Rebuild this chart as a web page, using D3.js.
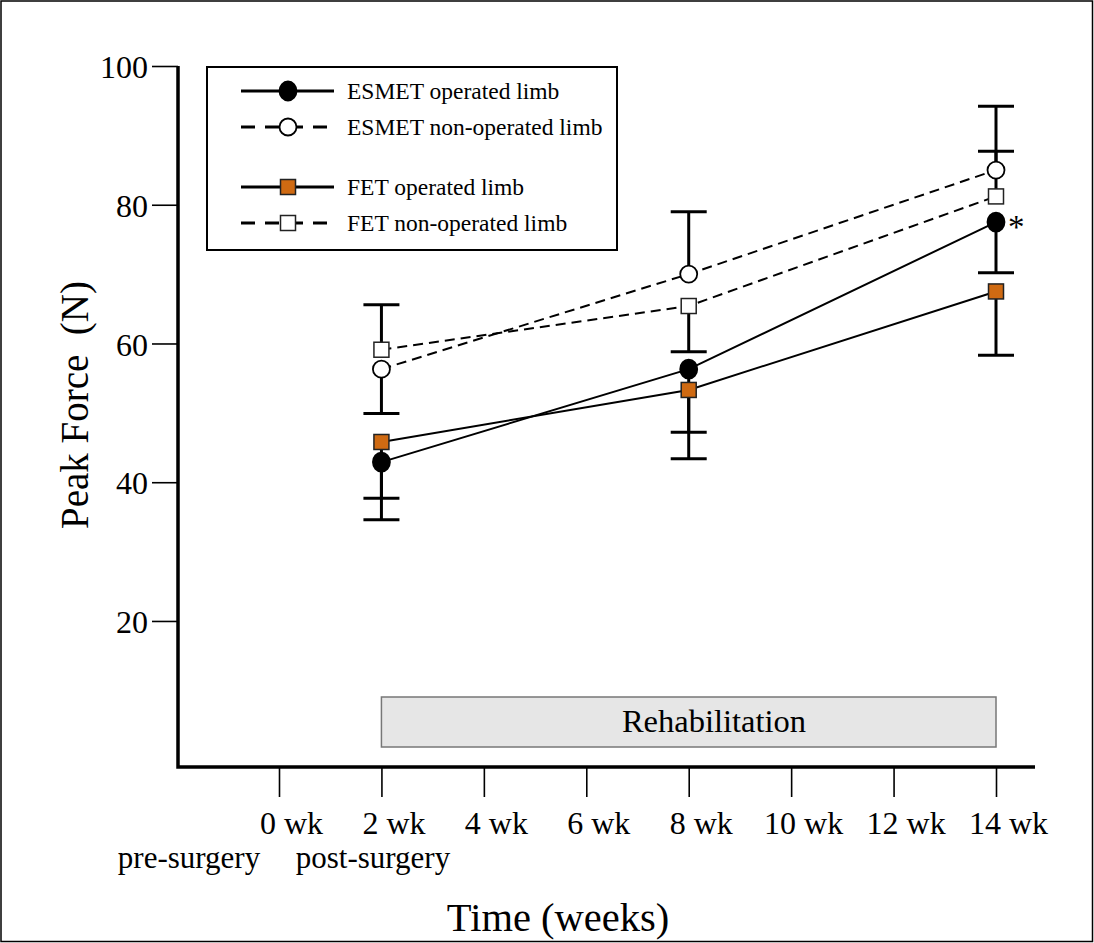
<!DOCTYPE html>
<html>
<head>
<meta charset="utf-8">
<script src="https://cdn.jsdelivr.net/npm/d3@7"></script>
<style>
	body { margin: 0; background: #fff; }
	svg { display: block; font-family: "Liberation Serif", "Times New Roman", serif; }
</style>
</head>
<body>
<svg></svg>
<script>
 //data
var weeks = [2, 8, 14],
		tickWeeks = [0, 2, 4, 6, 8, 10, 12, 14],
		yTicks = [20, 40, 60, 80, 100];
var esmetOp = [42.9, 56.3, 77.5],
		esmetNonOp = [56.3, 70.0, 85.0],
		fetOp = [45.8, 53.3, 67.5],
		fetNonOp = [59.1, 65.4, 81.2];
 //one-sided error bars: + goes up, - goes down
var esmetOpErr = [-8.3, -12.9, -7.3],
		esmetNonOpErr = [-6.4, 9.0, 9.2],
		fetOpErr = [-8.1, -6.1, -9.2],
		fetNonOpErr = [6.5, -6.6, 6.5];
var legendLabels = ['ESMET operated limb', 'ESMET non-operated limb', 'FET operated limb', 'FET non-operated limb'];
var subLabels = ['pre-surgery', 'post-surgery'];

var W = 1094, H = 943,
		ORANGE = '#cf6a12',
		root = d3.select('svg').attr('width', W).attr('height', H);

var sx = d3.scaleLinear()
			.domain([0, 14])
			.range([279, 996]),
		sy = d3.scaleLinear()
			.domain([0, 100])
			.range([759.7, 66]);

var AXIS_X = 178, AXIS_Y = 767;

var series = [
	{ name: legendLabels[0], vals: esmetOp, err: esmetOpErr, shape: 'circle', fill: '#000', dash: null },
	{ name: legendLabels[1], vals: esmetNonOp, err: esmetNonOpErr, shape: 'circle', fill: '#fff', dash: '10,6' },
	{ name: legendLabels[2], vals: fetOp, err: fetOpErr, shape: 'square', fill: ORANGE, dash: null },
	{ name: legendLabels[3], vals: fetNonOp, err: fetNonOpErr, shape: 'square', fill: '#fff', dash: '10,6' }
];

 //outer frame
root.append('rect')
	.attr('x', 1).attr('y', 1)
	.attr('width', W - 2.5).attr('height', H - 2.5)
	.attr('fill', 'none').attr('stroke', '#000').attr('stroke-width', 1.5);

 //rehabilitation band
root.append('rect')
	.attr('x', sx(2)).attr('y', 697)
	.attr('width', sx(14) - sx(2)).attr('height', 50)
	.attr('fill', '#e6e6e6').attr('stroke', '#777').attr('stroke-width', 1.5);
root.append('text')
	.attr('x', 714).attr('y', 732)
	.attr('text-anchor', 'middle')
	.attr('font-size', 32.5)
	.text('Rehabilitation');

 //axes
var yAxis = d3.axisLeft(sy).tickValues(yTicks).tickSize(26).tickPadding(4);
var gy = root.append('g').attr('transform', 'translate(' + AXIS_X + ',0)').call(yAxis);
gy.select('.domain').remove();
gy.selectAll('.tick line').attr('stroke-width', 1.6);
gy.selectAll('.tick text')
	.attr('font-family', 'Liberation Serif')
	.attr('font-size', 32)
	.attr('dy', '0.36em');

var xAxis = d3.axisBottom(sx).tickValues(tickWeeks).tickSize(30).tickPadding(14)
	.tickFormat(function(d) { return d + ' wk'; });
var gx = root.append('g').attr('transform', 'translate(0,' + AXIS_Y + ')').call(xAxis);
gx.select('.domain').remove();
gx.selectAll('.tick line').attr('stroke-width', 1.6);
gx.selectAll('.tick text')
	.attr('font-family', 'Liberation Serif')
	.attr('font-size', 32)
	.attr('dx', 12);

root.append('path')
	.attr('d', 'M' + AXIS_X + ',' + sy(100) + 'V' + AXIS_Y + 'H1035')
	.attr('fill', 'none').attr('stroke', '#000').attr('stroke-width', 3.5);

root.selectAll('.sublabel')
	.data(subLabels)
	.enter()
	.append('text')
	.attr('class', 'sublabel')
	.attr('x', function(d, i) { return [189, 373][i]; })
	.attr('y', 868)
	.attr('text-anchor', 'middle')
	.attr('font-size', 31)
	.text(function(d) { return d; });

root.append('text')
	.attr('x', 558).attr('y', 931)
	.attr('text-anchor', 'middle')
	.attr('font-size', 40.5)
	.text('Time (weeks)');

root.append('text')
	.attr('transform', 'translate(88,405) rotate(-90)')
	.attr('text-anchor', 'middle')
	.attr('font-size', 39)
	.style('white-space', 'pre')
	.text('Peak Force  (N)');

 //series lines
var line = d3.line()
	.x(function(d, i) { return sx(weeks[i]); })
	.y(function(d) { return sy(d); });

root.append('g').selectAll('path')
	.data(series)
	.enter()
	.append('path')
	.attr('d', function(s) { return line(s.vals); })
	.attr('fill', 'none')
	.attr('stroke', '#000')
	.attr('stroke-width', 2)
	.attr('stroke-dasharray', function(s) { return s.dash; });

 //error bars
var bars = [];
series.forEach(function(s) {
	s.vals.forEach(function(v, i) {
		bars.push({ x: weeks[i], v: v, end: v + s.err[i] });
	});
});
var eb = root.append('g').selectAll('g')
	.data(bars)
	.enter()
	.append('g')
	.attr('stroke', '#000')
	.attr('stroke-width', 3);
eb.append('line')
	.attr('x1', function(d) { return sx(d.x); })
	.attr('x2', function(d) { return sx(d.x); })
	.attr('y1', function(d) { return sy(d.v); })
	.attr('y2', function(d) { return sy(d.end); });
eb.append('line')
	.attr('x1', function(d) { return sx(d.x) - 18; })
	.attr('x2', function(d) { return sx(d.x) + 18; })
	.attr('y1', function(d) { return sy(d.end); })
	.attr('y2', function(d) { return sy(d.end); });

 //markers
function drawMarker(g, s, cx, cy) {
	if(s.shape === 'circle') {
		g.append('ellipse')
			.attr('cx', cx).attr('cy', cy)
			.attr('rx', 8.5).attr('ry', s.fill === '#000' ? 9.5 : 8.5)
			.attr('fill', s.fill).attr('stroke', '#000').attr('stroke-width', 1.8);
	} else {
		g.append('rect')
			.attr('x', cx - 7.5).attr('y', cy - 7.5)
			.attr('width', 15).attr('height', 15)
			.attr('fill', s.fill).attr('stroke', '#222').attr('stroke-width', 1.5);
	}
}
var mg = root.append('g');
series.forEach(function(s) {
	s.vals.forEach(function(v, i) {
		drawMarker(mg, s, sx(weeks[i]), sy(v));
	});
});

 //significance mark
root.append('text')
	.attr('x', sx(14) + 12).attr('y', sy(esmetOp[2]) + 16)
	.attr('font-size', 33)
	.text('*');

 //legend
var lg = root.append('g');
lg.append('rect')
	.attr('x', 207).attr('y', 67)
	.attr('width', 410).attr('height', 183)
	.attr('fill', '#fff').attr('stroke', '#000').attr('stroke-width', 2);
var rowY = [91, 127, 187, 223];
series.forEach(function(s, i) {
	lg.append('line')
		.attr('x1', 241).attr('x2', 334)
		.attr('y1', rowY[i]).attr('y2', rowY[i])
		.attr('stroke', '#000').attr('stroke-width', 3)
		.attr('stroke-dasharray', s.dash ? '14,10' : null);
	drawMarker(lg, s, 288, rowY[i]);
	lg.append('text')
		.attr('x', 347).attr('y', rowY[i] + 7.5)
		.attr('font-size', 23.5)
		.text(s.name);
});
</script>
</body>
</html>
